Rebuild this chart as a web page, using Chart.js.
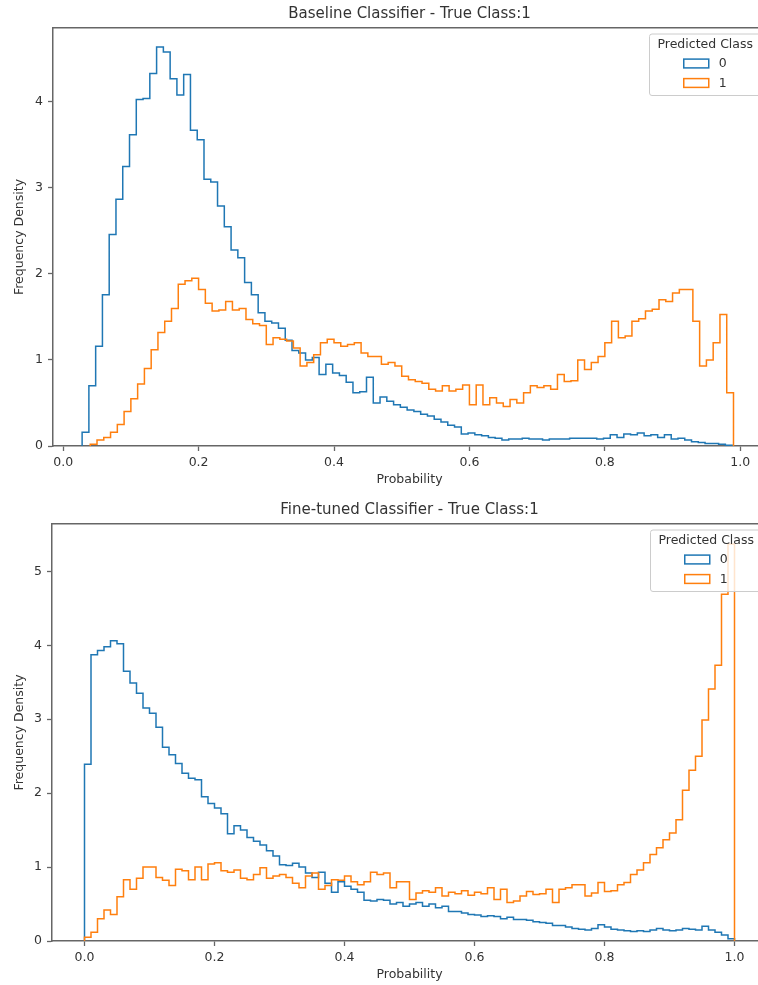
<!DOCTYPE html>
<html>
<head>
<meta charset="utf-8">
<script src="https://cdn.jsdelivr.net/npm/chart.js@4.4.0/dist/chart.umd.min.js"></script>
<style>
  html, body { margin: 0; padding: 0; background: #fff; overflow: hidden; }
  #wrap { width: 758px; height: 985px; overflow: hidden; }
  canvas { display: block; }
</style>
</head>
<body>
<div id="wrap">
  <canvas id="top" width="819" height="490"></canvas>
  <canvas id="bottom" width="819" height="495"></canvas>
</div>
<script>
// histogram bins are 0.01 wide; each series starts at its own first edge
const binWidth = 0.01;
const classLabels = ["0", "1"];
const legendTitle = "Predicted Class";
const xTicks = [0, 0.2, 0.4, 0.6, 0.8, 1.0];
const topYTicks = [0, 1, 2, 3, 4];
const bottomYTicks = [0, 1, 2, 3, 4, 5];

// Baseline classifier
const topBlueStart = 0.028;
const topBlue = [
  0.16, 0.70, 1.16, 1.76, 2.46, 2.87, 3.25, 3.62, 4.03, 4.04,
  4.33, 4.64, 4.58, 4.27, 4.08, 4.32, 3.67, 3.56, 3.10, 3.07,
  2.79, 2.55, 2.28, 2.19, 1.90, 1.76, 1.55, 1.45, 1.43, 1.37,
  1.23, 1.11, 1.08, 1.00, 1.03, 0.83, 0.95, 0.85, 0.82, 0.74,
  0.62, 0.63, 0.80, 0.50, 0.57, 0.52, 0.48, 0.45, 0.42, 0.40,
  0.37, 0.35, 0.31, 0.28, 0.24, 0.22, 0.14, 0.15, 0.13, 0.12,
  0.10, 0.09, 0.07, 0.08, 0.08, 0.09, 0.08, 0.08, 0.07, 0.08,
  0.08, 0.08, 0.09, 0.09, 0.09, 0.09, 0.08, 0.09, 0.13, 0.10,
  0.14, 0.13, 0.15, 0.12, 0.13, 0.10, 0.13, 0.08, 0.09, 0.07,
  0.05, 0.04, 0.03, 0.03, 0.02, 0.01
];
const topOrangeStart = 0.04;
const topOrange = [
  0.02, 0.07, 0.10, 0.16, 0.25, 0.40, 0.55, 0.72, 0.90, 1.12,
  1.32, 1.45, 1.60, 1.88, 1.92, 1.95, 1.82, 1.66, 1.57, 1.58,
  1.68, 1.58, 1.60, 1.47, 1.42, 1.40, 1.18, 1.26, 1.24, 1.22,
  1.14, 0.93, 0.97, 1.06, 1.20, 1.24, 1.20, 1.16, 1.18, 1.20,
  1.08, 1.04, 1.04, 0.95, 0.97, 0.93, 0.81, 0.77, 0.75, 0.73,
  0.66, 0.64, 0.70, 0.64, 0.66, 0.71, 0.48, 0.71, 0.48, 0.56,
  0.50, 0.46, 0.54, 0.50, 0.62, 0.70, 0.68, 0.70, 0.66, 0.83,
  0.75, 0.76, 1.00, 0.89, 0.97, 1.04, 1.20, 1.45, 1.26, 1.28,
  1.45, 1.48, 1.57, 1.59, 1.70, 1.68, 1.78, 1.82, 1.82, 1.45,
  0.93, 1.00, 1.20, 1.53, 0.62
];

// Fine-tuned classifier
const bottomBlueStart = 0.0;
const bottomBlue = [
  2.39, 3.87, 3.93, 3.98, 4.06, 4.02, 3.65, 3.49, 3.35, 3.15,
  3.08, 2.89, 2.62, 2.52, 2.40, 2.27, 2.20, 2.18, 1.95, 1.86,
  1.80, 1.72, 1.45, 1.56, 1.50, 1.40, 1.35, 1.30, 1.22, 1.15,
  1.03, 1.02, 1.05, 1.00, 0.92, 0.86, 0.93, 0.78, 0.66, 0.80,
  0.74, 0.70, 0.66, 0.55, 0.54, 0.56, 0.55, 0.50, 0.52, 0.47,
  0.50, 0.52, 0.47, 0.50, 0.45, 0.47, 0.40, 0.40, 0.38, 0.36,
  0.35, 0.33, 0.34, 0.33, 0.30, 0.32, 0.29, 0.29, 0.28, 0.26,
  0.25, 0.24, 0.21, 0.21, 0.19, 0.17, 0.16, 0.15, 0.17, 0.22,
  0.19, 0.16, 0.15, 0.14, 0.13, 0.14, 0.13, 0.15, 0.17, 0.15,
  0.14, 0.15, 0.17, 0.16, 0.15, 0.20, 0.15, 0.12, 0.08, 0.03
];
const bottomOrangeStart = 0.0;
const bottomOrange = [
  0.05, 0.12, 0.30, 0.42, 0.36, 0.60, 0.83, 0.70, 0.85, 1.00,
  1.00, 0.86, 0.82, 0.75, 0.97, 0.95, 0.83, 1.00, 0.83, 1.04,
  1.06, 0.95, 0.93, 0.96, 0.85, 0.83, 0.90, 0.99, 0.85, 0.88,
  0.90, 0.86, 0.78, 0.72, 0.88, 0.92, 0.70, 0.75, 0.83, 0.82,
  0.88, 0.80, 0.76, 0.80, 0.93, 0.90, 0.92, 0.72, 0.80, 0.80,
  0.56, 0.65, 0.68, 0.66, 0.72, 0.61, 0.66, 0.64, 0.68, 0.62,
  0.66, 0.64, 0.72, 0.56, 0.70, 0.52, 0.54, 0.61, 0.67, 0.63,
  0.64, 0.70, 0.52, 0.70, 0.72, 0.76, 0.76, 0.61, 0.65, 0.79,
  0.67, 0.68, 0.76, 0.79, 0.90, 0.96, 1.06, 1.17, 1.26, 1.37,
  1.46, 1.64, 2.04, 2.31, 2.50, 2.99, 3.41, 3.73, 4.69, 5.37
];

const BLUE = "#1f77b4";
const ORANGE = "#ff7f0e";
const INK = "#333333";
const SPINE = "#666666";

Chart.defaults.font.family = "'DejaVu Sans', sans-serif";
Chart.defaults.color = INK;

// outline of a step histogram: up at the first edge, across each bin, down at the last edge
function stepPoints(start, values) {
  const pts = [{ x: start, y: 0 }];
  values.forEach((v, i) => pts.push({ x: start + i * binWidth, y: v }));
  pts.push({ x: start + values.length * binWidth, y: 0 });
  return pts;
}

// matplotlib-style legend box inside the top right corner of the axes
const boxLegend = {
  id: "boxLegend",
  afterDatasetsDraw(chart) {
    const { ctx, chartArea } = chart;
    const w = 111.5, h = 61.5;
    const left = chartArea.right - 5 - w;
    const top = chartArea.top + 6;
    const cx = left + w / 2;
    ctx.save();
    ctx.beginPath();
    ctx.roundRect(left, top, w, h, 2.5);
    ctx.fillStyle = "rgba(255,255,255,0.8)";
    ctx.fill();
    ctx.strokeStyle = "#cccccc";
    ctx.lineWidth = 1;
    ctx.stroke();

    ctx.font = "12.5px 'DejaVu Sans'";
    ctx.fillStyle = INK;
    ctx.textAlign = "center";
    ctx.textBaseline = "middle";
    ctx.fillText(legendTitle, cx, top + 11);

    const sets = chart.data.datasets;
    ctx.textAlign = "left";
    sets.forEach((ds, i) => {
      const y = top + 29.5 + i * 19.5;
      ctx.strokeStyle = ds.borderColor;
      ctx.lineWidth = 1.5;
      ctx.strokeRect(cx - 21.5, y - 4.4, 25, 8.8);
      ctx.fillStyle = INK;
      ctx.fillText(ds.label, cx + 13.5, y + 0.5);
    });
    ctx.restore();
  }
};

function makeHist(id, opts) {
  const spine = { display: true, color: SPINE, width: 1.5 };
  return new Chart(document.getElementById(id), {
    type: "line",
    data: {
      datasets: [
        {
          label: classLabels[0],
          data: stepPoints(opts.blueStart, opts.blue),
          borderColor: BLUE,
          order: 1
        },
        {
          label: classLabels[1],
          data: stepPoints(opts.orangeStart, opts.orange),
          borderColor: ORANGE,
          order: 0
        }
      ]
    },
    options: {
      responsive: false,
      animation: false,
      events: [],
      layout: { padding: 0 },
      elements: {
        line: { stepped: true, borderWidth: 1.5, fill: false, tension: 0, borderJoinStyle: "miter" },
        point: { radius: 0 }
      },
      plugins: {
        legend: { display: false },
        tooltip: { enabled: false },
        title: {
          display: true,
          text: opts.title,
          color: INK,
          font: { size: 15, weight: "normal" },
          padding: opts.titlePad
        }
      },
      scales: {
        x: {
          type: "linear",
          position: "bottom",
          min: opts.xMin,
          max: opts.xMax,
          afterBuildTicks: (s) => { s.ticks = xTicks.map((v) => ({ value: v })); },
          afterFit: (s) => { s.height = 44; },
          ticks: { font: { size: 12.5 }, color: INK, padding: 4, maxRotation: 0, callback: (v) => v.toFixed(1) },
          grid: { display: true, drawOnChartArea: false, drawTicks: true, tickLength: 5, color: SPINE, tickWidth: 1.3 },
          border: spine,
          title: { display: true, text: "Probability", color: INK, font: { size: 12.5 }, padding: { top: 0, bottom: 2.5 } }
        },
        y: {
          type: "linear",
          position: "left",
          min: 0,
          max: opts.yMax,
          afterBuildTicks: (s) => { s.ticks = opts.yTicks.map((v) => ({ value: v })); },
          afterFit: (s) => { s.width = opts.yAxisWidth; },
          ticks: { font: { size: 12.5 }, color: INK, padding: 5, callback: (v) => String(v) },
          grid: { display: true, drawOnChartArea: false, drawTicks: true, tickLength: 5, color: SPINE, tickWidth: 1.3 },
          border: spine,
          title: { display: true, text: "Frequency Density", color: INK, font: { size: 12.5 }, padding: { top: 12.5, bottom: 0 } }
        },
        // frame on the top and right, like the matplotlib axes box
        xTop: {
          type: "linear",
          position: "top",
          ticks: { display: false },
          grid: { display: true, drawOnChartArea: false, drawTicks: false },
          border: spine,
          afterFit: (s) => { s.height = 0; }
        },
        yRight: {
          type: "linear",
          position: "right",
          ticks: { display: false },
          grid: { display: true, drawOnChartArea: false, drawTicks: false },
          border: spine,
          afterFit: (s) => { s.width = opts.yAxisWidth; }
        }
      }
    },
    plugins: [boxLegend]
  });
}

makeHist("top", {
  title: "Baseline Classifier - True Class:1",
  titlePad: { top: 5.5, bottom: 4.5 },
  blueStart: topBlueStart, blue: topBlue,
  orangeStart: topOrangeStart, orange: topOrange,
  xMin: -0.015, xMax: 1.038,
  yMax: 4.86, yTicks: topYTicks,
  yAxisWidth: 53
});

makeHist("bottom", {
  title: "Fine-tuned Classifier - True Class:1",
  titlePad: { top: 11, bottom: 5 },
  blueStart: bottomBlueStart, blue: bottomBlue,
  orangeStart: bottomOrangeStart, orange: bottomOrange,
  xMin: -0.05, xMax: 1.05,
  yMax: 5.64, yTicks: bottomYTicks,
  yAxisWidth: 52
});
</script>
</body>
</html>
